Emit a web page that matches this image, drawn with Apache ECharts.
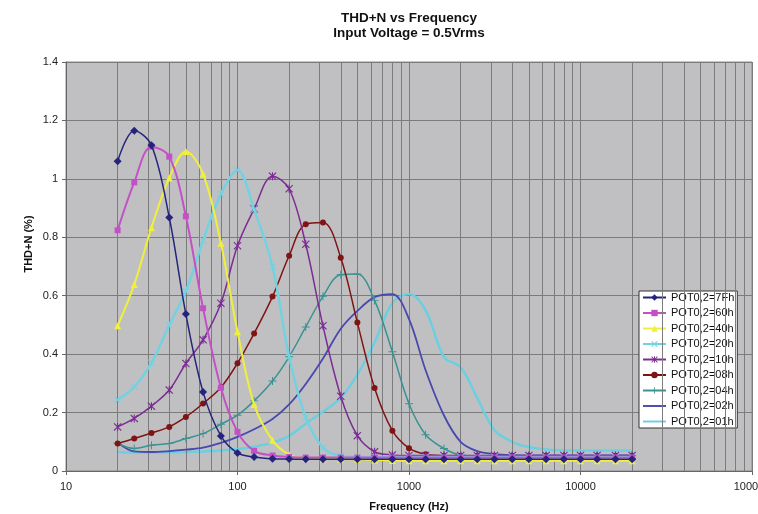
<!DOCTYPE html>
<html>
<head>
<meta charset="utf-8">
<script src="https://cdn.jsdelivr.net/npm/echarts@6/dist/echarts.min.js"></script>
<style>
  html, body { margin: 0; padding: 0; background: #fff; }
  #chart { width: 758px; height: 514px; }
</style>
</head>
<body>
<div id="chart"></div>
<script>
// 1/3 octave measurement points (Hz)
const freqs = [20, 25, 31.5, 40, 50, 63, 80, 100, 125, 160, 200, 250, 315, 400, 500, 630, 800,
  1000, 1250, 1600, 2000, 2500, 3150, 4000, 5000, 6300, 8000, 10000, 12500, 16000, 20000];

// THD+N (%) per POT0,2 setting
const pot7F = [1.06, 1.165, 1.115, 0.868, 0.537, 0.27, 0.12, 0.062, 0.048, 0.042, 0.041, 0.04, 0.04, 0.04, 0.04, 0.04,
  0.04, 0.04, 0.04, 0.04, 0.04, 0.04, 0.04, 0.04, 0.04, 0.04, 0.04, 0.04, 0.04, 0.04, 0.04];
const pot60 = [0.824, 0.988, 1.11, 1.076, 0.872, 0.557, 0.285, 0.134, 0.069, 0.053, 0.048, 0.046, 0.046, 0.046, 0.046, 0.046,
  0.046, 0.046, 0.046, 0.046, 0.046, 0.046, 0.046, 0.046, 0.046, 0.046, 0.046, 0.046, 0.046, 0.046, 0.046];
const pot40 = [0.497, 0.638, 0.833, 1.003, 1.094, 1.017, 0.78, 0.477, 0.228, 0.105, 0.056, 0.043, 0.042, 0.041, 0.04, 0.038,
  0.036, 0.035, 0.035, 0.035, 0.035, 0.035, 0.035, 0.035, 0.035, 0.035, 0.035, 0.035, 0.035, 0.035, 0.035];
const pot20 = [0.243, 0.288, 0.37, 0.5, 0.615, 0.79, 0.948, 1.03, 0.895, 0.7, 0.391, 0.184, 0.08, 0.052, 0.049, 0.048,
  0.048, 0.048, 0.048, 0.048, 0.048, 0.048, 0.048, 0.048, 0.048, 0.048, 0.048, 0.048, 0.048, 0.048, 0.048];
const pot10 = [0.151, 0.18, 0.222, 0.277, 0.368, 0.449, 0.574, 0.771, 0.897, 1.009, 0.966, 0.776, 0.497, 0.256, 0.121, 0.066,
  0.055, 0.053, 0.053, 0.053, 0.053, 0.053, 0.053, 0.053, 0.053, 0.053, 0.053, 0.053, 0.053, 0.053, 0.053];
const pot08 = [0.094, 0.111, 0.13, 0.151, 0.185, 0.231, 0.286, 0.369, 0.471, 0.597, 0.737, 0.845, 0.851, 0.73, 0.508, 0.284,
  0.138, 0.078, 0.057, 0.052, 0.052, 0.052, 0.052, 0.052, 0.052, 0.052, 0.052, 0.052, 0.052, 0.052, 0.052];
const pot04 = [0.095, 0.077, 0.088, 0.094, 0.111, 0.128, 0.16, 0.191, 0.24, 0.308, 0.391, 0.493, 0.598, 0.672, 0.674, 0.584,
  0.408, 0.23, 0.124, 0.077, 0.055, 0.052, 0.052, 0.052, 0.052, 0.052, 0.052, 0.052, 0.052, 0.052, 0.052];
const pot02 = [0.097, 0.067, 0.065, 0.068, 0.073, 0.08, 0.096, 0.117, 0.143, 0.178, 0.228, 0.298, 0.385, 0.487, 0.548, 0.595,
  0.605, 0.52, 0.345, 0.19, 0.1, 0.068, 0.058, 0.054, 0.053, 0.053, 0.053, 0.053, 0.053, 0.053, 0.053];
const pot01 = [0.065, 0.063, 0.063, 0.064, 0.065, 0.067, 0.07, 0.075, 0.083, 0.097, 0.12, 0.162, 0.203, 0.25, 0.33, 0.44,
  0.575, 0.606, 0.55, 0.39, 0.355, 0.25, 0.14, 0.1, 0.082, 0.074, 0.071, 0.07, 0.07, 0.07, 0.07];

const seriesNames = ['POT0,2=7Fh', 'POT0,2=60h', 'POT0,2=40h', 'POT0,2=20h', 'POT0,2=10h',
  'POT0,2=08h', 'POT0,2=04h', 'POT0,2=02h', 'POT0,2=01h'];
const seriesValues = [pot7F, pot60, pot40, pot20, pot10, pot08, pot04, pot02, pot01];

const FONT = 'Arial, "Liberation Sans", sans-serif';

// marker shapes
const xMark = 'path://M0,1L1,0L5,4L9,0L10,1L6,5L10,9L9,10L5,6L1,10L0,9L4,5Z';
const starMark = 'path://M0,1L1,0L4.3,3.3V0H5.7V3.3L9,0L10,1L6,5L10,9L9,10L5.7,6.7V10H4.3V6.7L1,10L0,9L4,5Z';
const plusMark = 'path://M4.4,0H5.6V4.4H10V5.6H5.6V10H4.4V5.6H0V4.4H4.4Z';
const lineIcon = 'path://M0,0H12V1H0Z';

const styles = [
  { color: '#24247c', symbol: 'diamond', size: 8, width: 1.5 },
  { color: '#c450c6', symbol: 'rect', size: 6, width: 2 },
  { color: '#f0f03c', symbol: 'triangle', size: 7, width: 2 },
  { color: '#72d2e2', symbol: xMark, size: 7, width: 2.5 },
  { color: '#7c2c92', symbol: starMark, size: 8, width: 1.5 },
  { color: '#7e1414', symbol: 'circle', size: 6, width: 1.5 },
  { color: '#3a9292', symbol: plusMark, size: 8, width: 1.5 },
  { color: '#4848ae', symbol: 'none', size: 0, width: 1.8 },
  { color: '#6ccfe0', symbol: 'none', size: 0, width: 2.5 }
];

// minor vertical grid lines at 2..9 of each decade
const minorGrid = [];
for (let d = 10; d < 100000; d *= 10) {
  for (let k = 2; k <= 9; k++) minorGrid.push({ xAxis: k * d });
}

const series = [{
  type: 'line',
  data: [],
  z: 1,
  silent: true,
  markLine: {
    silent: true,
    symbol: ['none', 'none'],
    label: { show: false },
    lineStyle: { color: '#7c7c7c', width: 1, type: 'solid' },
    emphasis: { disabled: true },
    animation: false,
    data: minorGrid
  }
}];

seriesNames.forEach((name, i) => {
  const s = styles[i];
  series.push({
    name: name,
    type: 'line',
    smooth: 0.35,
    z: 3 + (seriesNames.length - i),
    data: freqs.map((f, j) => [f, seriesValues[i][j]]),
    symbol: s.symbol,
    symbolSize: s.size,
    showSymbol: s.symbol !== 'none',
    lineStyle: { color: s.color, width: s.width },
    itemStyle: { color: s.color, borderColor: s.color, borderWidth: 0 },
    emphasis: { disabled: true }
  });
});

const legendData = seriesNames.map((name, i) =>
  styles[i].symbol === 'none' ? { name: name, icon: lineIcon } : { name: name });

const chart = echarts.init(document.getElementById('chart'));
chart.setOption({
  animation: false,
  backgroundColor: '#ffffff',
  textStyle: { fontFamily: FONT },
  grid: {
    left: 66, right: 6, top: 62, bottom: 43,
    outerBoundsMode: 'none',
    containLabel: false,
    show: true,
    backgroundColor: '#c0c0c2',
    borderColor: '#8a8a8a',
    borderWidth: 1
  },
  legend: {
    orient: 'vertical',
    left: 639, top: 291,
    data: legendData,
    selectedMode: false,
    backgroundColor: '#ffffff',
    borderColor: '#333',
    borderWidth: 1,
    padding: [1, 3, 1, 3],
    itemGap: 4.5,
    itemWidth: 23,
    itemHeight: 8,
    textStyle: { fontSize: 11, color: '#111', fontFamily: FONT }
  },
  xAxis: {
    type: 'log',
    logBase: 10,
    min: 10,
    max: 100000,
    axisLine: { show: true, onZero: false, lineStyle: { color: '#666' } },
    axisTick: { show: true, length: 4, lineStyle: { color: '#666' } },
    axisLabel: { fontSize: 11, color: '#222', margin: 10, fontFamily: FONT, formatter: v => String(v) },
    splitLine: { show: true, lineStyle: { color: '#7c7c7c', width: 1 } }
  },
  yAxis: {
    type: 'value',
    min: 0,
    max: 1.4,
    interval: 0.2,
    axisLine: { show: true, lineStyle: { color: '#666' } },
    axisTick: { show: true, length: 4, lineStyle: { color: '#666' } },
    axisLabel: { fontSize: 11, color: '#222', margin: 8, fontFamily: FONT },
    splitLine: { show: true, lineStyle: { color: '#7c7c7c', width: 1 } }
  },
  graphic: [
    { type: 'text', x: 409, y: 18, style: { text: 'THD+N vs Frequency', font: 'bold 13.5px ' + FONT, fill: '#111', align: 'center', verticalAlign: 'middle' } },
    { type: 'text', x: 409, y: 33, style: { text: 'Input Voltage = 0.5Vrms', font: 'bold 13.5px ' + FONT, fill: '#111', align: 'center', verticalAlign: 'middle' } },
    { type: 'text', x: 409, y: 507, style: { text: 'Frequency (Hz)', font: 'bold 11px ' + FONT, fill: '#111', align: 'center', verticalAlign: 'middle' } },
    { type: 'text', x: 29, y: 244, rotation: Math.PI / 2, style: { text: 'THD+N (%)', font: 'bold 11px ' + FONT, fill: '#111', align: 'center', verticalAlign: 'middle' } }
  ],
  series: series
});
</script>
</body>
</html>
